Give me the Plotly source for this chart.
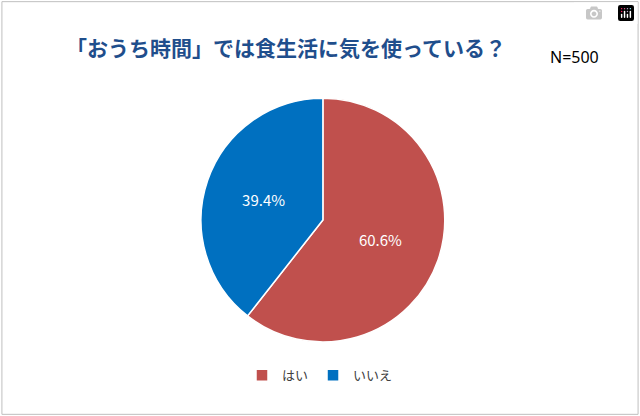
import plotly.graph_objects as go

labels = ["はい", "いいえ"]
values = [60.6, 39.4]
colors = ["#C0504D", "#0070C0"]

fig = go.Figure(go.Pie(
    labels=labels, values=values, sort=False, direction="clockwise", rotation=0,
    marker=dict(colors=colors, line=dict(color="white", width=1.5)),
    texttemplate="%{value:.1f}%", textinfo="text", textposition="inside",
    insidetextfont=dict(color="white", size=15, family="Noto Sans CJK JP"),
    domain=dict(x=[0.314, 0.695], y=[0.178, 0.764]), hoverinfo="skip",
))
fig.update_layout(
    width=640, height=416, margin=dict(l=0, r=0, t=0, b=0),
    paper_bgcolor="white", font=dict(family="Noto Sans CJK JP"),
    showlegend=True,
    legend=dict(orientation="h", x=0.5, xanchor="center", y=0.098, yanchor="middle",
                font=dict(size=13, color="#404040"), itemwidth=30, traceorder="normal"),
    annotations=[
        dict(text="<b>「おうち時間」では食生活に気を使っている？</b>", x=0.1, y=0.887,
             xref="paper", yref="paper", xanchor="left", yanchor="middle", showarrow=False,
             font=dict(size=21, color="#1F4E8C")),
        dict(text="N=500", x=0.856, y=0.863, xref="paper", yref="paper",
             xanchor="left", yanchor="middle", showarrow=False,
             font=dict(size=16, color="#000000", family="Noto Sans")),
    ],
    shapes=[dict(type="rect", xref="paper", yref="paper", x0=0.003, y0=0.004, x1=0.997, y1=0.996,
                 line=dict(color="#BFBFBF", width=1))],
)
fig.write_html("out.html", post_script="document.body.style.margin='0';document.body.style.overflow='hidden';")
